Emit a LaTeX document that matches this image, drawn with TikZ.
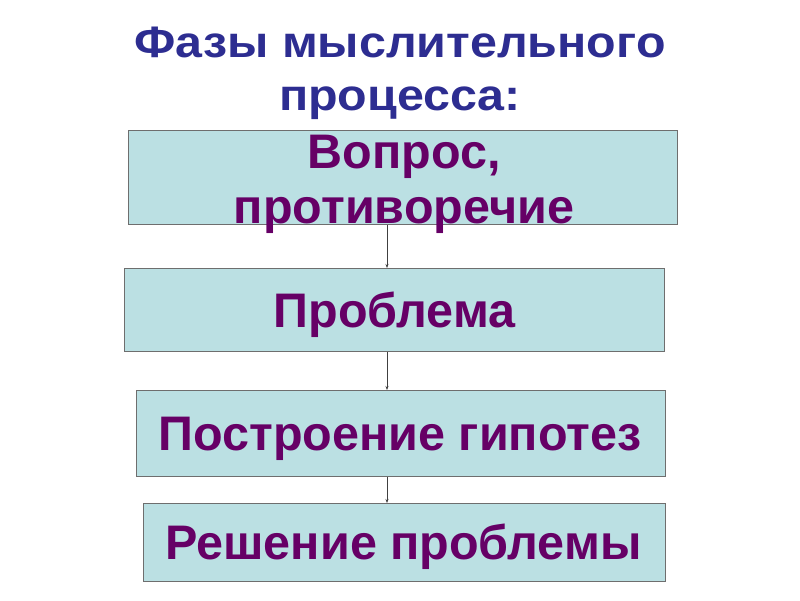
\documentclass[tikz,border=0pt]{standalone}
\usepackage{fontspec}
\setmainfont{Liberation Sans}
\newfontfamily\titlefam{Liberation Sans}[FakeStretch=1.1]
\usetikzlibrary{arrows.meta}
\definecolor{titleblue}{RGB}{45,45,145}
\definecolor{boxtext}{RGB}{102,0,102}
\definecolor{boxfill}{RGB}{187,224,227}
\definecolor{boxline}{RGB}{110,110,110}
\tikzset{
  phasebox/.style={draw=boxline, line width=1pt, fill=boxfill, inner sep=0pt, anchor=north west},
  phasetext/.style={text=boxtext, font=\fontsize{48.5}{55}\selectfont\bfseries, inner sep=0pt, anchor=base},
  titletext/.style={text=titleblue, font=\titlefam\fontsize{44}{53}\selectfont\bfseries, inner sep=0pt, anchor=base},
  arr/.style={draw=black!75, line width=0.6pt, -{Stealth[length=4pt,width=3pt]}}
}
\begin{document}
\begin{tikzpicture}[x=1pt,y=-1pt]
\useasboundingbox[fill=white] (0,0) rectangle (800,600);
\node[titletext] (title) at (400,57) {\begin{tabular}[t]{@{}c@{}}Фазы мыслительного\\процесса:\end{tabular}};
\node[phasebox, minimum width=549pt, minimum height=94pt] (b1) at (128,130) {};
\node[phasebox, minimum width=540pt, minimum height=83pt] (b2) at (124,268) {};
\node[phasebox, minimum width=529pt, minimum height=86pt] (b3) at (136,390) {};
\node[phasebox, minimum width=522pt, minimum height=78pt] (b4) at (143,503) {};
\node[phasetext] (t1) at (404,168) {\begin{tabular}[t]{@{}c@{}}Вопрос,\\противоречие\end{tabular}};
\path (b2.center) ++(0,17) node[phasetext] (t2) {Проблема};
\path (b3.center) ++(-1,17) node[phasetext] (t3) {Построение гипотез};
\path (b4.center) ++(-1,17) node[phasetext] (t4) {Решение проблемы};
\coordinate (ax) at (387,0);
\draw[arr] (b1.south -| ax) -- (b2.north -| ax);
\draw[arr] (b2.south -| ax) -- (b3.north -| ax);
\draw[arr] (b3.south -| ax) -- (b4.north -| ax);
\end{tikzpicture}
\end{document}
